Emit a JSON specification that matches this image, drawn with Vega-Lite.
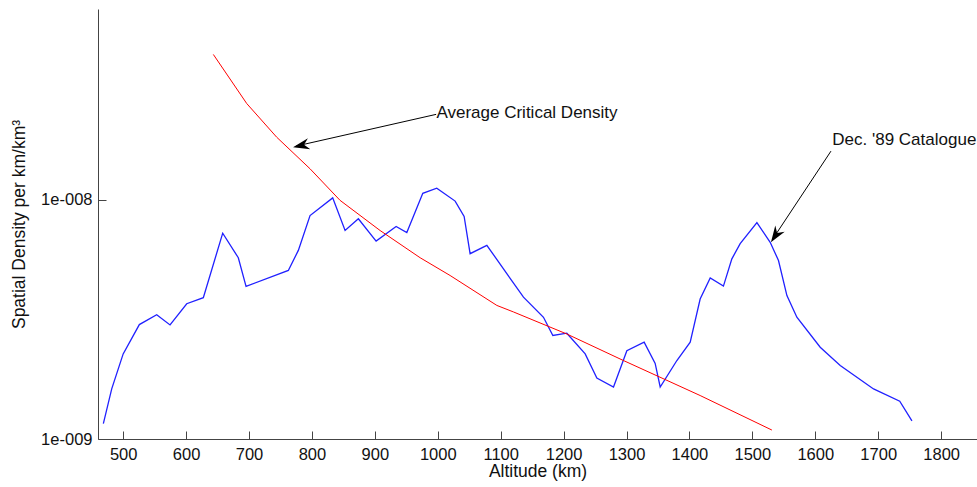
{
  "$schema": "https://vega.github.io/schema/vega-lite/v6.json",
  "autosize": {"type": "none"},
  "width": 879,
  "height": 430,
  "padding": {"left": 98, "top": 9, "right": 0, "bottom": 48},
  "background": "white",
  "config": {
    "view": {"stroke": null},
    "font": "Liberation Sans",
    "axis": {
      "domainColor": "#444444",
      "tickColor": "#444444",
      "grid": false,
      "labelFont": "Liberation Sans",
      "titleFont": "Liberation Sans",
      "labelFontSize": 16.5,
      "titleFontSize": 17.5,
      "labelColor": "#111111",
      "titleColor": "#111111",
      "titleFontWeight": "normal"
    }
  },
  "layer": [
    {
      "data": {"values": [
        {"altitude": 468.5, "density": 1.16e-9},
        {"altitude": 481.8, "density": 1.62e-9},
        {"altitude": 500, "density": 2.27e-9},
        {"altitude": 525.7, "density": 3.01e-9},
        {"altitude": 553.3, "density": 3.31e-9},
        {"altitude": 574.5, "density": 3.0e-9},
        {"altitude": 601, "density": 3.68e-9},
        {"altitude": 627.4, "density": 3.9e-9},
        {"altitude": 658.2, "density": 7.26e-9},
        {"altitude": 683, "density": 5.73e-9},
        {"altitude": 695.3, "density": 4.35e-9},
        {"altitude": 762.5, "density": 5.07e-9},
        {"altitude": 778.4, "density": 6.15e-9},
        {"altitude": 797, "density": 8.6e-9},
        {"altitude": 833, "density": 1.02e-8},
        {"altitude": 852.7, "density": 7.45e-9},
        {"altitude": 873.8, "density": 8.34e-9},
        {"altitude": 902, "density": 6.73e-9},
        {"altitude": 933.8, "density": 7.74e-9},
        {"altitude": 950.8, "density": 7.3e-9},
        {"altitude": 976.2, "density": 1.066e-8},
        {"altitude": 998.4, "density": 1.12e-8},
        {"altitude": 1027.6, "density": 9.89e-9},
        {"altitude": 1041.9, "density": 8.53e-9},
        {"altitude": 1051.4, "density": 5.96e-9},
        {"altitude": 1078, "density": 6.46e-9},
        {"altitude": 1136.2, "density": 3.92e-9},
        {"altitude": 1168, "density": 3.23e-9},
        {"altitude": 1182.9, "density": 2.71e-9},
        {"altitude": 1205.1, "density": 2.77e-9},
        {"altitude": 1234.3, "density": 2.27e-9},
        {"altitude": 1252.8, "density": 1.8e-9},
        {"altitude": 1279.3, "density": 1.65e-9},
        {"altitude": 1300.5, "density": 2.34e-9},
        {"altitude": 1328, "density": 2.54e-9},
        {"altitude": 1345.5, "density": 2.07e-9},
        {"altitude": 1353.5, "density": 1.65e-9},
        {"altitude": 1380, "density": 2.13e-9},
        {"altitude": 1401.2, "density": 2.54e-9},
        {"altitude": 1417, "density": 3.85e-9},
        {"altitude": 1433, "density": 4.72e-9},
        {"altitude": 1454, "density": 4.36e-9},
        {"altitude": 1467.4, "density": 5.67e-9},
        {"altitude": 1480.6, "density": 6.56e-9},
        {"altitude": 1507.2, "density": 8.04e-9},
        {"altitude": 1528.3, "density": 6.65e-9},
        {"altitude": 1541.5, "density": 5.58e-9},
        {"altitude": 1554.9, "density": 3.98e-9},
        {"altitude": 1570.7, "density": 3.23e-9},
        {"altitude": 1607.8, "density": 2.42e-9},
        {"altitude": 1639.6, "density": 2.03e-9},
        {"altitude": 1692.6, "density": 1.62e-9},
        {"altitude": 1734.2, "density": 1.44e-9},
        {"altitude": 1753.6, "density": 1.19e-9}
      ]},
      "mark": {"type": "line", "color": "#2020ff", "strokeWidth": 1.3, "clip": true},
      "encoding": {
        "x": {
          "field": "altitude", "type": "quantitative",
          "scale": {"domain": [460, 1857], "nice": false, "zero": false},
          "axis": {
            "title": "Altitude (km)",
            "values": [500, 600, 700, 800, 900, 1000, 1100, 1200, 1300, 1400, 1500, 1600, 1700, 1800],
            "format": "d",
            "tickSize": -8,
            "labelPadding": 15,
            "titlePadding": 0
          }
        },
        "y": {
          "field": "density", "type": "quantitative",
          "scale": {"type": "log", "domain": [1e-9, 6.29e-8], "nice": false},
          "axis": {
            "title": "Spatial Density per km/km³",
            "values": [1e-9, 1e-8],
            "labelExpr": "datum.value < 5e-9 ? '1e-009' : '1e-008'",
            "tickSize": -8,
            "labelPadding": 14,
            "titlePadding": 12
          }
        }
      }
    },
    {
      "data": {"values": [
        {"altitude": 643.3, "density": 4.06e-8},
        {"altitude": 696.4, "density": 2.53e-8},
        {"altitude": 744, "density": 1.83e-8},
        {"altitude": 797, "density": 1.35e-8},
        {"altitude": 844.7, "density": 9.96e-9},
        {"altitude": 908.3, "density": 7.45e-9},
        {"altitude": 972, "density": 5.73e-9},
        {"altitude": 1019.6, "density": 4.83e-9},
        {"altitude": 1093.9, "density": 3.62e-9},
        {"altitude": 1120.3, "density": 3.4e-9},
        {"altitude": 1205, "density": 2.75e-9},
        {"altitude": 1295, "density": 2.13e-9},
        {"altitude": 1417, "density": 1.52e-9},
        {"altitude": 1531, "density": 1.09e-9}
      ]},
      "mark": {"type": "line", "color": "#ff0000", "strokeWidth": 1},
      "encoding": {
        "x": {"field": "altitude", "type": "quantitative"},
        "y": {"field": "density", "type": "quantitative"}
      }
    },
    {
      "data": {"values": [
        {"altitude": 997.4, "density": 2.28e-8, "altitude2": 775, "density2": 1.68e-8},
        {"altitude": 1624.9, "density": 1.6e-8, "altitude2": 1533, "density2": 6.9e-9}
      ]},
      "mark": {"type": "rule", "color": "#000000", "strokeWidth": 1},
      "encoding": {
        "x": {"field": "altitude", "type": "quantitative"},
        "y": {"field": "density", "type": "quantitative"},
        "x2": {"field": "altitude2"},
        "y2": {"field": "density2"}
      }
    },
    {
      "data": {"values": [{"altitude": 770, "density": 1.66e-8}]},
      "mark": {"type": "point", "filled": true, "color": "#000000", "opacity": 1, "size": 300, "angle": 257.5, "shape": "M0,0 L-0.65,1.9 L0,1.3 L0.65,1.9 Z"},
      "encoding": {
        "x": {"field": "altitude", "type": "quantitative"},
        "y": {"field": "density", "type": "quantitative"}
      }
    },
    {
      "data": {"values": [{"altitude": 1529.5, "density": 6.65e-9}]},
      "mark": {"type": "point", "filled": true, "color": "#000000", "opacity": 1, "size": 300, "angle": 213.4, "shape": "M0,0 L-0.65,1.9 L0,1.3 L0.65,1.9 Z"},
      "encoding": {
        "x": {"field": "altitude", "type": "quantitative"},
        "y": {"field": "density", "type": "quantitative"}
      }
    },
    {
      "data": {"values": [
        {"altitude": 997.9, "density": 2.3e-8, "label": "Average Critical Density"},
        {"altitude": 1627, "density": 1.775e-8, "label": "Dec. '89 Catalogue"}
      ]},
      "mark": {"type": "text", "align": "left", "baseline": "middle", "font": "Liberation Sans", "fontSize": 17, "color": "#111111"},
      "encoding": {
        "x": {"field": "altitude", "type": "quantitative"},
        "y": {"field": "density", "type": "quantitative"},
        "text": {"field": "label"}
      }
    }
  ]
}
